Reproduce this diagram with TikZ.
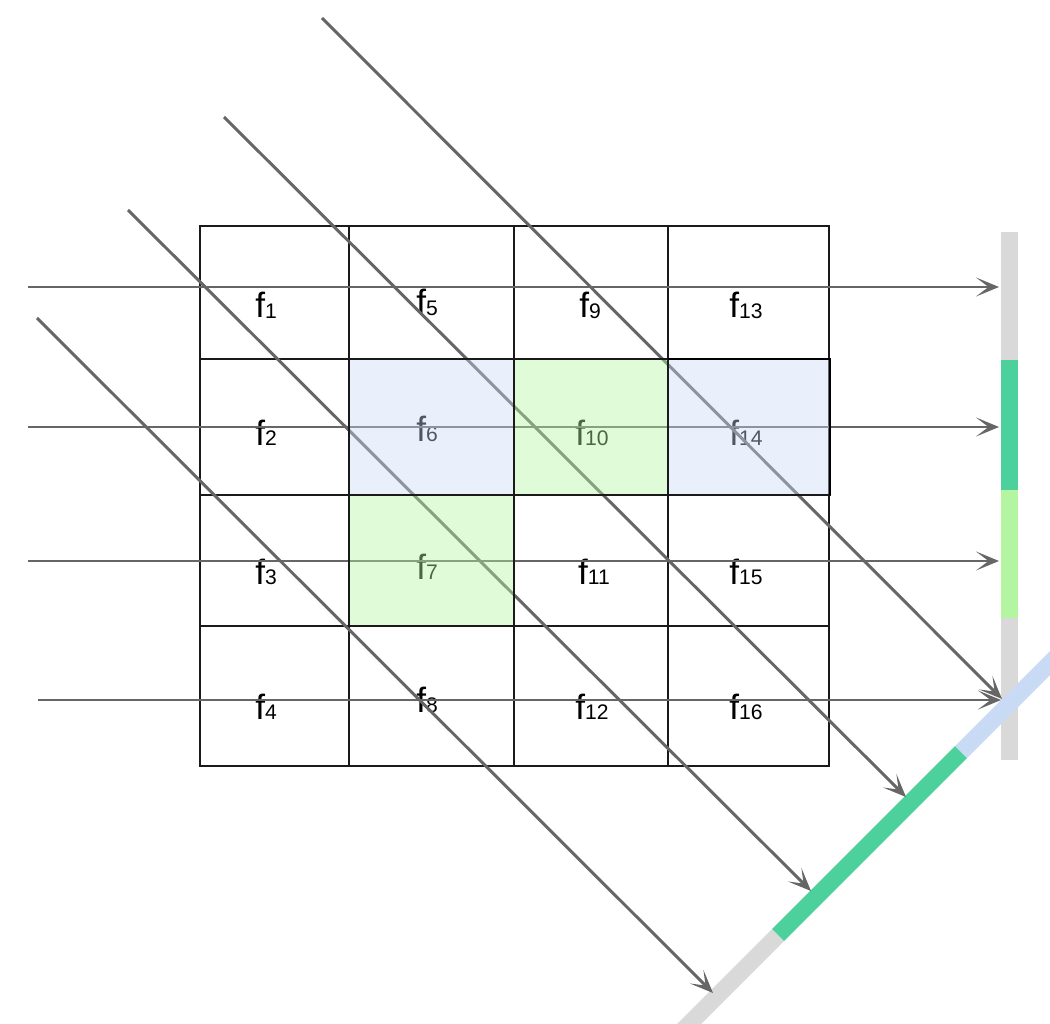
\documentclass[tikz,border=0pt]{standalone}
\usepackage{fontspec}
\setmainfont{Liberation Sans}
\usetikzlibrary{arrows.meta}
\definecolor{raygray}{HTML}{666666}
\definecolor{gridline}{HTML}{1A1A1A}
\definecolor{bargray}{HTML}{D9D9D9}
\definecolor{bardkgreen}{HTML}{4CD19D}
\definecolor{barltgreen}{HTML}{B3F5A0}
\definecolor{barblue}{HTML}{C9DAF5}
\newcommand\flab[1]{\fontsize{20}{22}\selectfont f\raisebox{-0.4pt}{\fontsize{12}{14}\selectfont #1}}
\tikzset{
  ray/.style={draw=raygray, line width=1.7pt, -{Stealth[length=0.46cm,width=0.38cm,inset=0.25cm]}},
  gridl/.style={draw=gridline, line width=0.85pt},
  lab/.style={inner sep=0pt, anchor=base, text=black},
  barseg/.style={line width=0.34cm, line cap=butt},
  bluecell/.style={fill=barblue, fill opacity=0.4, draw=gridline, line width=0.85pt},
  greencell/.style={fill=barltgreen, fill opacity=0.42, draw=gridline, line width=0.85pt}
}
\begin{document}
\begin{tikzpicture}[x=0.02cm,y=-0.02cm]
\useasboundingbox (0,0) rectangle (1050,1023);
\clip (0,0) rectangle (1050,1023);
% bars
\draw[barseg, bargray] (1009.5,232) -- (1009.5,360);
\draw[barseg, bardkgreen] (1009.5,360) -- (1009.5,490);
\draw[barseg, barltgreen] (1009.5,490) -- (1009.5,618);
\draw[barseg, bargray] (1009.5,618) -- (1009.5,760);
\draw[barseg, bargray] (668,1045) -- (778,935);
\draw[barseg, bardkgreen] (778,935) -- (961,752);
\draw[barseg, barblue] (961,752) -- (1075,638);
% grid
\draw[gridl] (200,226) rectangle (829,766);
\foreach \x in {349,514,668} \draw[gridl] (\x,226) -- (\x,766);
\foreach \y in {359,495,626} \draw[gridl] (200,\y) -- (829,\y);
% labels
\node[lab] (f1) at (266,318) {\flab{1}};
\node[lab] (f5) at (427,315) {\flab{5}};
\node[lab] (f9) at (590,318) {\flab{9}};
\node[lab] (f13) at (746,318) {\flab{13}};
\node[lab] (f2) at (266,445) {\flab{2}};
\node[lab] (f6) at (427,441) {\flab{6}};
\node[lab] (f10) at (592,445) {\flab{10}};
\node[lab] (f14) at (746,445) {\flab{14}};
\node[lab] (f3) at (266,584) {\flab{3}};
\node[lab] (f7) at (427,579) {\flab{7}};
\node[lab] (f11) at (594,584) {\flab{11}};
\node[lab] (f15) at (746,584) {\flab{15}};
\node[lab] (f4) at (266,719) {\flab{4}};
\node[lab] (f8) at (427,712) {\flab{8}};
\node[lab] (f12) at (592,719) {\flab{12}};
\node[lab] (f16) at (746,719) {\flab{16}};
% ray end points
\coordinate (h1s) at (28,287);  \coordinate (h1e) at (999,287);
\coordinate (h2s) at (28,427);  \coordinate (h2e) at (999,427);
\coordinate (h3s) at (28,561);  \coordinate (h3e) at (999,561);
\coordinate (h4s) at (38,700);  \coordinate (h4e) at (1001,700);
\coordinate (d1s) at (322,18);  \coordinate (d1e) at (1002,699);
\coordinate (d2s) at (224,117); \coordinate (d2e) at (906,797);
\coordinate (d3s) at (128,210); \coordinate (d3e) at (811,891);
\coordinate (d4s) at (37,318);  \coordinate (d4e) at (713,993);
\draw[ray] (h1s) -- (h1e);
\draw[ray] (h2s) -- (h2e);
\draw[ray] (h3s) -- (h3e);
\draw[ray] (h4s) -- (h4e);
\draw[ray] (d1s) -- (d1e);
\draw[ray] (d2s) -- (d2e);
\draw[ray] (d3s) -- (d3e);
\draw[ray] (d4s) -- (d4e);
% highlighted cells
\path[bluecell] (349,359) rectangle (514,495);
\path[greencell] (514,359) rectangle (668,495);
\path[bluecell] (668,359) rectangle (830,495);
\path[greencell] (349,495) rectangle (514,626);
\draw[draw=black, line width=1.1pt] (668,359) -- (830,359) -- (830,495);
\end{tikzpicture}
\end{document}
